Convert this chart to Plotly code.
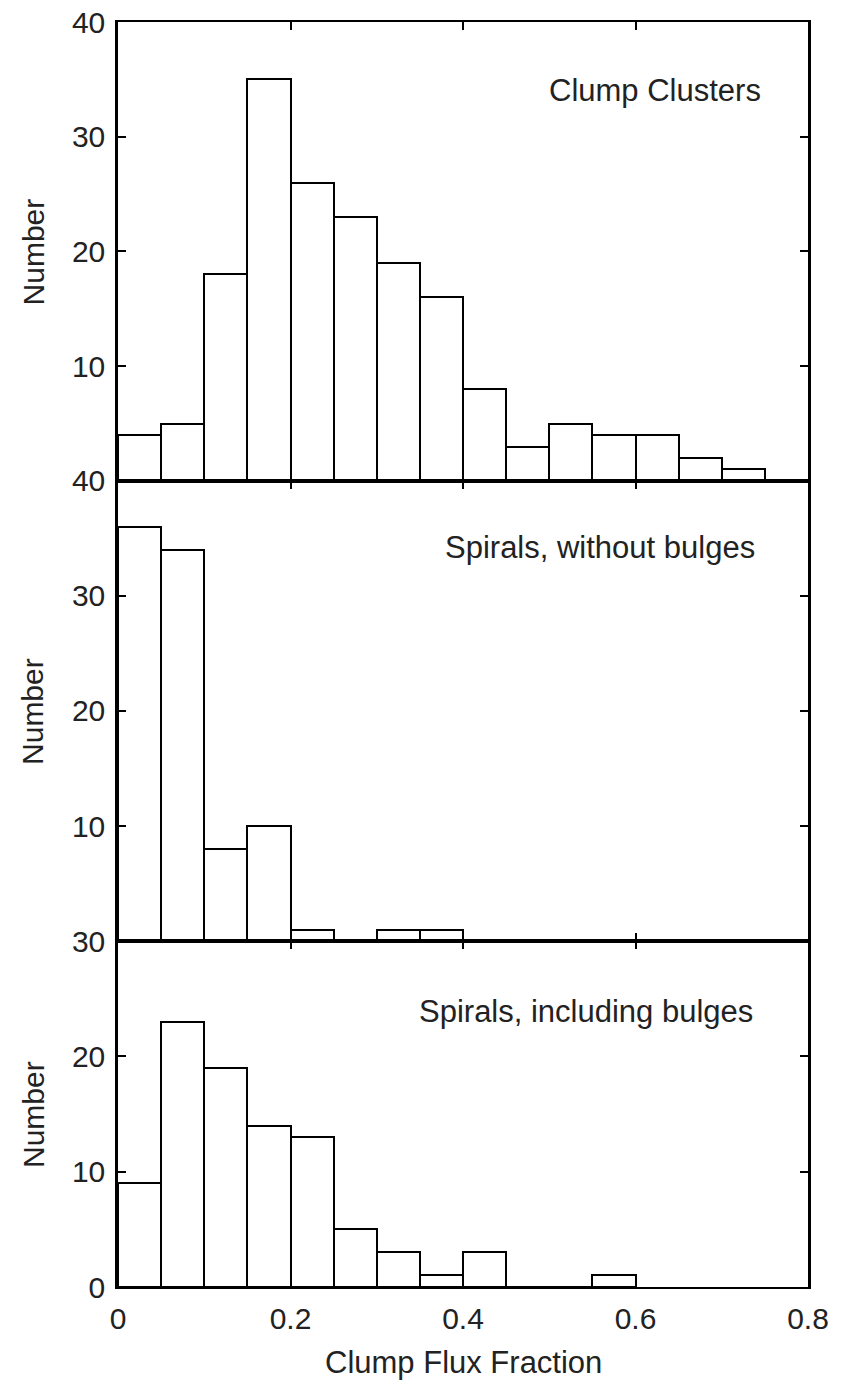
import plotly.graph_objects as go

bin_width = 0.05
bin_left = [round(i * 0.05, 2) for i in range(16)]

clump_clusters = [4, 5, 18, 35, 26, 23, 19, 16, 8, 3, 5, 4, 4, 2, 1]
spirals_no_bulge = [36, 34, 8, 10, 1, 0, 1, 1]
spirals_with_bulge = [9, 23, 19, 14, 13, 5, 3, 1, 3, 0, 0, 1]

panel_labels = ["Clump Clusters", "Spirals, without bulges", "Spirals, including bulges"]
x_ticks = [0, 0.2, 0.4, 0.6, 0.8]
x_ticktext = ["0", "0.2", "0.4", "0.6", "0.8"]
y_ticks_top = [10, 20, 30, 40]
y_ticks_mid = [10, 20, 30, 40]
y_ticks_bot = [0, 10, 20, 30]

FONT = "Liberation Sans, Arial, sans-serif"
TXT = "#222222"

fig = go.Figure()
for vals, xa, ya in [(clump_clusters, "x", "y"), (spirals_no_bulge, "x2", "y2"),
                     (spirals_with_bulge, "x3", "y3")]:
    fig.add_trace(go.Bar(
        x=bin_left[:len(vals)], y=vals, width=bin_width, offset=0,
        marker=dict(color="white", line=dict(color="black", width=2)),
        xaxis=xa, yaxis=ya, showlegend=False, hoverinfo="skip"))

d1, d2 = 0.2735, 0.6372
common_x = dict(range=[0, 0.8], tickvals=x_ticks, ticktext=x_ticktext, ticks="inside",
                ticklen=8, tickwidth=2, tickcolor="black", showline=True, linewidth=2.2,
                linecolor="black", mirror="ticks", showgrid=False, zeroline=False,
                ticklabelstandoff=4, automargin=False, ticklabeloverflow="allow",
                tickfont=dict(family=FONT, size=30, color=TXT))
common_y = dict(ticks="inside", ticklen=8, tickwidth=2, tickcolor="black", showline=True,
                linewidth=2.5, linecolor="black", mirror="ticks", showgrid=False,
                zeroline=False, ticklabelstandoff=4, automargin=False,
                ticklabeloverflow="allow",
                tickfont=dict(family=FONT, size=30, color=TXT))

fig.update_layout(
    width=843, height=1384,
    margin=dict(l=118, r=35, t=22, b=97),
    paper_bgcolor="white", plot_bgcolor="white",
    bargap=0,
    xaxis=dict(common_x, anchor="y", showticklabels=False),
    xaxis2=dict(common_x, anchor="y2", matches="x", showticklabels=False),
    xaxis3=dict(common_x, anchor="y3", matches="x", showticklabels=True),
    yaxis=dict(common_y, domain=[d2, 1], range=[0, 40], tickvals=y_ticks_top, anchor="x"),
    yaxis2=dict(common_y, domain=[d1, d2], range=[0, 40], tickvals=y_ticks_mid, anchor="x2"),
    yaxis3=dict(common_y, domain=[0, d1], range=[0, 30], tickvals=y_ticks_bot, anchor="x3"),
)

label_pos = [(0.9348, 0.9462), (0.926, 0.5842), (0.923, 0.2174)]
for txt, (px, py) in zip(panel_labels, label_pos):
    fig.add_annotation(text=txt, xref="paper", yref="paper", x=px, y=py,
                       xanchor="right", yanchor="middle", showarrow=False,
                       font=dict(family=FONT, size=31, color=TXT))

for py in [(d2 + 1) / 2, (d1 + d2) / 2, d1 / 2]:
    fig.add_annotation(text="Number", xref="paper", yref="paper", x=-0.1232, y=py,
                       xanchor="center", yanchor="middle", textangle=-90, showarrow=False,
                       font=dict(family=FONT, size=30, color=TXT))

fig.add_annotation(text="Clump Flux Fraction", xref="paper", yref="paper", x=0.5, y=-0.0593,
                   xanchor="center", yanchor="middle", showarrow=False,
                   font=dict(family=FONT, size=31, color=TXT))

fig.write_html("out.html", config={"displayModeBar": False},
               post_script="document.body.style.margin='0';document.body.style.padding='0';")
